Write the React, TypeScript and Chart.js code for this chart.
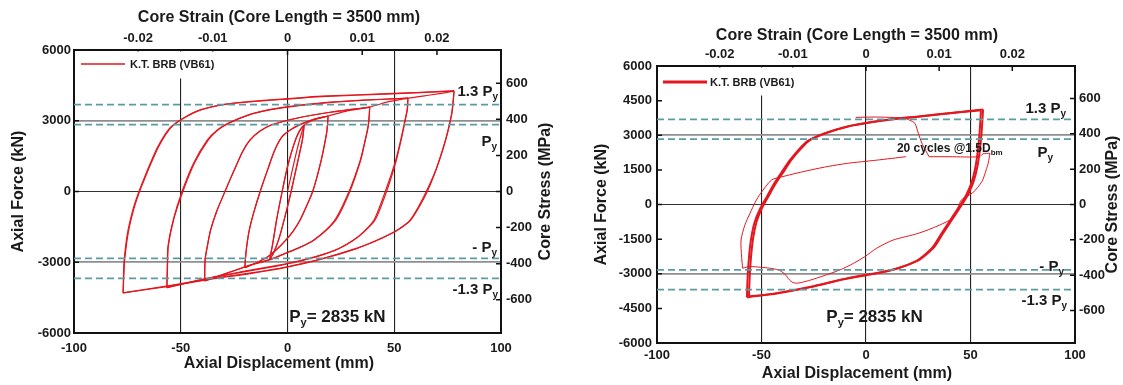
import React, { useEffect, useRef } from "react";
import { Chart, registerables } from "chart.js";

Chart.register(...registerables);

// ---------------- constants & tick labels ----------------
const FONT_FAMILY = "'Liberation Sans', Arial, Helvetica, sans-serif";
const RED = "#e3171f";
const TEAL = "#5b9ca4";
const INK = "#1a1a1a";

const coreLengthMm = 3500;
const coreAreaMm2 = 7650; // estimated from the stress axis
const yieldForceKN = 2835;
const refFactors = [1.3, 1, -1, -1.3];
const dispTicks = [-100, -50, 0, 50, 100];
const strainTicks = [-0.02, -0.01, 0, 0.01, 0.02];
const stressTicks = [-600, -400, -200, 0, 200, 400, 600];
const forceTicksLeft = [-6000, -3000, 0, 3000, 6000];
const forceTicksRight = [-6000, -4500, -3000, -1500, 0, 1500, 3000, 4500, 6000];
const verticalGridAt = [-50, 0, 50];
const seriesLabel = "K.T. BRB (VB61)";

// ---------------- left panel: increasing-amplitude cycles (mm, kN) ----------------
const leftStart = [[0, 0], [1.5, 600], [4, 1600], [6, 2300], [7.8, 2820]];
const leftSmallDown = [[7.8, 2820], [7, 2200], [4.5, 1150], [1.7, 0], [-1, -1000], [-4, -2000], [-6.5, -2600], [-8.4, -2900]];
const leftSmallUp = [[-8.4, -2900], [-7, -2250], [-5, -1150], [-2.5, 0], [0, 1050], [3, 2000], [5.5, 2550], [7.8, 2820]];
const leftExt20 = [[12, 3020], [19, 3200]];
const leftDown20 = [[19, 3200], [18.7, 2800], [18.3, 2465], [15.8, 1335], [11.8, 0], [8.5, -700], [5.9, -1210], [2.5, -1700], [-0.8, -2060], [-5, -2450], [-9.1, -2760], [-14, -3000], [-20, -3230]];
const leftUp20 = [[-20, -3230], [-19.6, -2750], [-19, -2250], [-17.8, -1600], [-15.9, -920], [-12.8, 0], [-9, 1000], [-6, 1750], [-2.5, 2325], [2, 2650], [7.5, 2900], [13, 3080], [19, 3200]];
const leftExt38 = [[28, 3420], [38.5, 3580]];
const leftDown38 = [[38.5, 3580], [38.3, 3200], [37.8, 2750], [36, 2000], [34.3, 1335], [29.2, 0], [22.6, -1210], [12.5, -2060], [5, -2400], [-0.8, -2610], [-8, -2880], [-17.6, -3120], [-28, -3450], [-38.8, -3795]];
const leftDown38b = [[38.5, 3580], [38.2, 3150], [37.6, 2700], [35.8, 1950], [34, 1300], [28.8, 0], [22, -1230], [12, -2080], [4.5, -2420], [-1.2, -2640], [-8.5, -2900], [-18, -3150], [-28.5, -3470], [-38.8, -3795]];
const leftUp38 = [[-38.8, -3795], [-38.6, -2900], [-37.5, -2300], [-36, -1630], [-33.2, -850], [-29.3, 0], [-25, 900], [-21, 1700], [-17.6, 2180], [-13, 2550], [-7.7, 2820], [0, 3020], [7.5, 3170], [20, 3360], [30, 3480], [38.5, 3580]];
const leftExt56 = [[47, 3800], [56.4, 3960]];
const leftDown56 = [[56.4, 3960], [56.2, 3500], [55.5, 3170], [53.5, 2300], [51, 1335], [46.4, 0], [41, -1210], [36, -1700], [31, -2060], [24, -2420], [15.8, -2690], [5, -2950], [-4, -3120], [-20, -3380], [-34, -3610], [-46, -3850], [-56.5, -4080]];
const leftDown56b = [[56.4, 3960], [56, 3450], [55.2, 3100], [53.2, 2250], [50.6, 1300], [45.8, 0], [40.4, -1230], [35.5, -1720], [30.5, -2090], [23.5, -2450], [15.2, -2720], [4.5, -2980], [-4.5, -3150], [-20.5, -3410], [-34.5, -3640], [-46.5, -3870], [-56.5, -4080]];
const leftUp56 = [[-56.5, -4080], [-56.3, -3200], [-56, -2340], [-53.5, -1200], [-49.4, 0], [-44, 1200], [-37.6, 2180], [-33, 2600], [-27.6, 2900], [-18, 3250], [-9, 3450], [0, 3580], [15.8, 3740], [35, 3860], [56.4, 3960]];
const leftUp56b = [[-56.5, -4080], [-56.2, -3150], [-55.8, -2300], [-53.2, -1150], [-49, 0], [-43.5, 1220], [-37, 2200], [-32.5, 2620], [-27, 2920], [-17.5, 3270], [-8.5, 3470], [0.5, 3600], [16, 3760], [35.5, 3880], [56.4, 3960]];
const leftExt77 = [[66, 4080], [78, 4250]];
const leftDown77 = [[78, 4275], [77.6, 3800], [77, 3320], [75, 2500], [72.7, 1760], [69.5, 900], [65.5, 0], [62, -600], [57.7, -1210], [53, -1550], [49, -1760], [41, -2100], [32.6, -2400], [16, -2850], [-0.8, -3200], [-17, -3450], [-34, -3670], [-56, -4000], [-77, -4300]];
const leftDown77b = [[78, 4250], [77.5, 3750], [76.8, 3250], [74.8, 2450], [72.4, 1700], [69.2, 850], [65, 0], [61.5, -620], [57.2, -1240], [52.5, -1580], [48.5, -1790], [40.5, -2130], [32, -2430], [15.5, -2880], [-1.2, -3230], [-17.5, -3480], [-34.5, -3700], [-56.5, -4030], [-77, -4300]];
const leftUp77 = [[-77, -4300], [-76.8, -3500], [-76.5, -2900], [-75, -1800], [-72.5, -800], [-70, -100], [-67, 600], [-64, 1250], [-61, 1850], [-57.5, 2400], [-54.5, 2750], [-48, 3150], [-41, 3450], [-30, 3680], [-17.6, 3800], [0, 3920], [15.8, 4020], [49, 4140], [78, 4275]];
const leftUp77b = [[-77, -4300], [-76.6, -3450], [-76.2, -2850], [-74.6, -1750], [-72, -750], [-69.5, -50], [-66.5, 640], [-63.5, 1280], [-60.5, 1880], [-57, 2420], [-54, 2770], [-47.5, 3170], [-40.5, 3470], [-29.5, 3700], [-17, 3820], [0.5, 3940], [16, 4040], [49.5, 4160], [78, 4250]];

// ---------------- right panel: 20 cycles at constant amplitude + final cycle ----------------
const rightUpA = [[-57, -4020], [-56.6, -3100], [-56, -2300], [-55, -1500], [-53.4, -800], [-51, -250], [-48, 250], [-44, 900], [-40, 1450], [-36.6, 1900], [-32, 2400], [-28, 2750], [-19.6, 3090], [-9.2, 3370], [1, 3540], [12, 3680], [25, 3800], [42.3, 3975], [56, 4120]];
const rightDownA = [[56, 4120], [55.7, 3650], [55.2, 3000], [54.4, 2300], [53.2, 1600], [51.5, 1000], [49.2, 500], [47, 150], [44.5, -200], [40.5, -750], [36.5, -1300], [33, -1800], [29, -2150], [25, -2420], [16, -2740], [8, -2920], [-9.2, -3200], [-26.4, -3560], [-43.5, -3850], [-57, -4020]];
const rightUpB = [[-56, -3980], [-55.6, -3050], [-55, -2250], [-54, -1450], [-52.4, -760], [-50, -200], [-47, 300], [-43, 940], [-39, 1480], [-35.6, 1940], [-31, 2430], [-27, 2780], [-18.6, 3110], [-8.2, 3390], [2, 3560], [13, 3700], [26, 3820], [43, 3990], [55, 4080]];
const rightDownB = [[55, 4080], [54.7, 3600], [54.2, 2950], [53.4, 2250], [52.2, 1550], [50.5, 950], [48.2, 460], [46, 110], [43.5, -240], [39.5, -790], [35.5, -1340], [32, -1840], [28, -2190], [24, -2450], [15, -2770], [7, -2950], [-10, -3230], [-27, -3590], [-44, -3880], [-56, -3980]];
const rightFinalTop = [[-4.9, 3775], [5, 3790], [13, 3770], [18.2, 3745]];
const rightFinalDrop = [[18.2, 3745], [21, 3650], [23.4, 3515], [25, 3090], [27, 2600], [30.2, 2070]];
const rightFinalShelf = [[30.2, 2070], [40, 2070], [54.3, 2070], [56, 2200], [59.3, 2215]];
const rightFinalDown = [[59.3, 2215], [58.5, 1800], [57.5, 1500], [55.5, 1000], [51, 500], [45.6, 195], [42.3, -530], [35, -900], [25, -1250], [13, -1540], [5, -1900], [-0.6, -2260], [-6, -2550], [-12.6, -2840], [-20, -3080], [-26.4, -3270], [-31, -3380], [-33.2, -3410]];
const rightFinalNotch = [[-33.2, -3410], [-35, -3380], [-36.6, -3270], [-39, -3000], [-41.8, -2840], [-46, -2760], [-50.4, -2720], [-55.5, -2690], [-59, -2760]];
const rightFinalUp = [[-59, -2760], [-59.5, -2300], [-59.8, -1540], [-58, -900], [-55.5, -380], [-53, 100], [-50.4, 485], [-45.2, 1060], [-40.2, 1200], [-33, 1360], [-26.3, 1500], [-18, 1650], [-9.2, 1780], [5, 1920], [19.1, 2070]];

// Each branch is drawn as its own polyline so reversal tips stay sharp.
const leftBranches = [
  leftStart, leftSmallDown, leftSmallUp, leftSmallDown, [...leftSmallUp, ...leftExt20],
  leftDown20, leftUp20, leftDown20, [...leftUp20, ...leftExt38],
  leftDown38, leftUp38, leftDown38b, [...leftUp38, ...leftExt56],
  leftDown56, leftUp56, leftDown56b, [...leftUp56b, ...leftExt77],
  leftDown77b, leftUp77, leftDown77, leftUp77b,
];
const rightBandBranches = [rightUpA, rightDownA, rightUpB, rightDownB];
const rightFinalBranches = [rightFinalTop, rightFinalDrop, rightFinalShelf, rightFinalDown, rightFinalNotch, rightFinalUp];

// ---------------- panel layout specs ----------------
const leftSpec = {
  left: 0, width: 560,
  axis: { left: 74, right: 59, top: 50, bottom: 52 },
  pad: { left: 3, right: 5, top: 4, bottom: 8 },
  forceTicks: forceTicksLeft,
  series: leftBranches.map((b) => ({ points: b, width: 1.2 })),
  legend: { boxW: 150, boxH: 27, x0: 7, x1: 51, dy: 14, tx: 56, lw: 1.6 },
  titles: { cx: 279, topY: 22, bottomY: 368, leftX: 19, rightX: 546 },
  notes: {
    p13: { dx: 3, dy: -8.5 }, p1: { dx: 4, dy: 21 }, m1: { dx: 4, dy: -6 }, m13: { dx: 3, dy: 15.5 },
    pyAt: { x: 0.8, y: -5530 },
  },
  cycles: null as any,
};
const rightSpec = {
  left: 560, width: 563,
  axis: { left: 97, right: 48, top: 66, bottom: 42 },
  pad: { left: 5, right: 4, top: 4, bottom: 5 },
  forceTicks: forceTicksRight,
  series: [
    ...rightBandBranches.map((b) => ({ points: b, width: 2 })),
    ...rightFinalBranches.map((b) => ({ points: b, width: 1 })),
  ],
  legend: { boxW: 143, boxH: 28, x0: 6, x1: 50, dy: 16, tx: 53, lw: 3 },
  titles: { cx: 297, topY: 40, bottomY: 378, leftX: 42, rightX: 553 },
  notes: {
    p13: { dx: 9, dy: -6.5 }, p1: { dx: 22, dy: 18 }, m1: { dx: 11, dy: 1 }, m13: { dx: 8, dy: 15.5 },
    pyAt: { x: -19, y: -5090 },
  },
  cycles: { x: 14.8, y: 2273 },
};

// ---------------- helpers ----------------
function font(size: number) {
  return `bold ${size}px ${FONT_FAMILY}`;
}

function drawParts(ctx: any, parts: any[], x: number, y: number, align: string) {
  let total = 0;
  const widths = parts.map((p) => {
    ctx.font = p.font;
    const w = ctx.measureText(p.text).width;
    total += w;
    return w;
  });
  let cx = align === "right" ? x - total : x;
  parts.forEach((p, i) => {
    ctx.font = p.font;
    ctx.fillText(p.text, cx, y + (p.dy || 0));
    cx += widths[i];
  });
}

function pyParts(prefix: string) {
  return [
    { text: prefix + "P", font: font(15) },
    { text: "y", font: font(10), dy: 4 },
  ];
}

function decorPlugin(spec: any) {
  return {
    id: "decor",
    afterDraw(chart: any) {
      const { ctx, chartArea: a, scales } = chart;
      const y = scales.y, y2 = scales.y2, x = scales.x, x2 = scales.x2;
      ctx.save();

      // inward tick marks
      ctx.strokeStyle = "#111";
      ctx.lineWidth = 1.5;
      ctx.beginPath();
      y.ticks.forEach((t: any) => {
        const p = y.getPixelForValue(t.value);
        if (p > a.top + 2 && p < a.bottom - 2) { ctx.moveTo(a.left, p); ctx.lineTo(a.left + 5, p); }
      });
      y2.ticks.forEach((t: any) => {
        const p = y2.getPixelForValue(t.value);
        if (p > a.top + 2 && p < a.bottom - 2) { ctx.moveTo(a.right, p); ctx.lineTo(a.right - 5, p); }
      });
      x2.ticks.forEach((t: any) => {
        const p = x2.getPixelForValue(t.value);
        if (p > a.left + 2 && p < a.right - 2) { ctx.moveTo(p, a.top); ctx.lineTo(p, a.top + 5); }
      });
      ctx.stroke();

      // legend
      const L = spec.legend;
      ctx.fillStyle = "#fff";
      ctx.fillRect(a.left + 1.5, a.top + 1.5, L.boxW, L.boxH);
      ctx.strokeStyle = RED;
      ctx.lineWidth = L.lw;
      ctx.beginPath();
      ctx.moveTo(a.left + L.x0, a.top + L.dy);
      ctx.lineTo(a.left + L.x1, a.top + L.dy);
      ctx.stroke();
      ctx.fillStyle = INK;
      ctx.font = font(11);
      ctx.textBaseline = "middle";
      ctx.textAlign = "left";
      ctx.fillText(seriesLabel, a.left + L.tx, a.top + L.dy + 0.5);

      // yield-force labels
      ctx.textBaseline = "alphabetic";
      const N = spec.notes;
      const yp = (v: number) => y.getPixelForValue(v);
      drawParts(ctx, pyParts("1.3 "), a.right - N.p13.dx, yp(1.3 * yieldForceKN) + N.p13.dy, "right");
      drawParts(ctx, pyParts(""), a.right - N.p1.dx, yp(yieldForceKN) + N.p1.dy, "right");
      drawParts(ctx, pyParts("- "), a.right - N.m1.dx, yp(-yieldForceKN) + N.m1.dy, "right");
      drawParts(ctx, pyParts("-1.3 "), a.right - N.m13.dx, yp(-1.3 * yieldForceKN) + N.m13.dy, "right");
      drawParts(
        ctx,
        [
          { text: "P", font: font(17) },
          { text: "y", font: font(11), dy: 4 },
          { text: `= ${yieldForceKN} kN`, font: font(17) },
        ],
        x.getPixelForValue(N.pyAt.x),
        yp(N.pyAt.y),
        "left"
      );
      if (spec.cycles) {
        drawParts(
          ctx,
          [
            { text: "20 cycles @1.5D", font: font(12) },
            { text: "bm", font: font(8), dy: 3 },
          ],
          x.getPixelForValue(spec.cycles.x),
          yp(spec.cycles.y),
          "left"
        );
      }

      // axis titles
      const T = spec.titles;
      const midY = (a.top + a.bottom) / 2;
      ctx.fillStyle = INK;
      ctx.font = font(16);
      ctx.textAlign = "center";
      ctx.textBaseline = "alphabetic";
      ctx.fillText(`Core Strain (Core Length = ${coreLengthMm} mm)`, T.cx, T.topY);
      ctx.fillText("Axial Displacement (mm)", T.cx, T.bottomY);
      ctx.textBaseline = "middle";
      [
        { text: "Axial Force (kN)", x: T.leftX },
        { text: "Core Stress (MPa)", x: T.rightX },
      ].forEach((t) => {
        ctx.save();
        ctx.translate(t.x, midY);
        ctx.rotate(-Math.PI / 2);
        ctx.fillText(t.text, 0, 0);
        ctx.restore();
      });
      ctx.restore();
    },
  };
}

function buildConfig(spec: any) {
  const stressLimit = (6000 * 1000) / coreAreaMm2;
  const tickFont = { family: FONT_FAMILY, size: 13, weight: "bold" as const };
  const border = { display: true, color: "#111", width: 2 };
  const datasets: any[] = spec.series.map((s: any) => ({
    data: s.points.map(([dx, f]: number[]) => ({ x: dx, y: f })),
    showLine: true,
    borderColor: RED,
    backgroundColor: RED,
    borderWidth: s.width,
    borderJoinStyle: "round",
    pointRadius: 0,
    tension: 0.25,
    fill: false,
    order: 1,
    xAxisID: "x",
    yAxisID: "y",
  }));
  refFactors.forEach((k) => {
    datasets.push({
      data: [
        { x: dispTicks[0], y: k * yieldForceKN },
        { x: dispTicks[dispTicks.length - 1], y: k * yieldForceKN },
      ],
      showLine: true,
      borderColor: TEAL,
      borderWidth: 1.7,
      borderDash: [7, 4],
      pointRadius: 0,
      order: 0,
      xAxisID: "x",
      yAxisID: "y",
    });
  });

  return {
    type: "scatter",
    data: { datasets },
    options: {
      animation: false,
      responsive: false,
      maintainAspectRatio: false,
      layout: { padding: 0 },
      plugins: { legend: { display: false }, tooltip: { enabled: false } },
      scales: {
        x: {
          type: "linear",
          position: "bottom",
          min: dispTicks[0],
          max: dispTicks[dispTicks.length - 1],
          afterBuildTicks: (s: any) => { s.ticks = dispTicks.map((v) => ({ value: v })); },
          afterFit: (s: any) => { s.height = spec.axis.bottom; },
          grid: {
            drawTicks: false,
            color: (c: any) => (c.tick && verticalGridAt.includes(c.tick.value) ? "#222" : "rgba(0,0,0,0)"),
            lineWidth: 1.1,
          },
          border,
          ticks: { font: tickFont, color: INK, padding: spec.pad.bottom, maxRotation: 0, callback: (v: any) => String(v) },
        },
        x2: {
          type: "linear",
          position: "top",
          min: dispTicks[0] / coreLengthMm,
          max: dispTicks[dispTicks.length - 1] / coreLengthMm,
          afterBuildTicks: (s: any) => { s.ticks = strainTicks.map((v) => ({ value: v })); },
          afterFit: (s: any) => { s.height = spec.axis.top; },
          grid: { drawOnChartArea: false, drawTicks: false },
          border,
          ticks: { font: tickFont, color: INK, padding: spec.pad.top, maxRotation: 0, callback: (v: any) => (v === 0 ? "0" : String(v)) },
        },
        y: {
          type: "linear",
          position: "left",
          min: spec.forceTicks[0],
          max: spec.forceTicks[spec.forceTicks.length - 1],
          afterBuildTicks: (s: any) => { s.ticks = spec.forceTicks.map((v: number) => ({ value: v })); },
          afterFit: (s: any) => { s.width = spec.axis.left; },
          grid: {
            drawTicks: false,
            color: (c: any) => {
              const v = c.tick ? c.tick.value : NaN;
              if (v === 0) return "#333";
              if (Math.abs(v) === 3000) return "#8e8e8e";
              return "rgba(0,0,0,0)";
            },
            lineWidth: (c: any) => (c.tick && Math.abs(c.tick.value) === 3000 ? 1.8 : 1.1),
          },
          border,
          ticks: { font: tickFont, color: INK, padding: spec.pad.left, callback: (v: any) => String(v) },
        },
        y2: {
          type: "linear",
          position: "right",
          min: -stressLimit,
          max: stressLimit,
          afterBuildTicks: (s: any) => { s.ticks = stressTicks.map((v) => ({ value: v })); },
          afterFit: (s: any) => { s.width = spec.axis.right; },
          grid: { drawOnChartArea: false, drawTicks: false },
          border,
          ticks: { font: tickFont, color: INK, padding: spec.pad.right, callback: (v: any) => String(v) },
        },
      },
    },
    plugins: [decorPlugin(spec)],
  };
}

function Panel({ spec }: { spec: any }) {
  const ref = useRef<HTMLCanvasElement>(null);
  useEffect(() => {
    const chart = new Chart(ref.current as HTMLCanvasElement, buildConfig(spec) as any);
    return () => chart.destroy();
  }, [spec]);
  return (
    <canvas
      ref={ref}
      width={spec.width}
      height={385}
      style={{ position: "absolute", left: spec.left, top: 0, width: spec.width, height: 385, display: "block" }}
    />
  );
}

export default function App() {
  return (
    <div style={{ position: "fixed", left: 0, top: 0, width: 1123, height: 385, background: "#fff", overflow: "hidden" }}>
      <Panel spec={leftSpec} />
      <Panel spec={rightSpec} />
    </div>
  );
}
